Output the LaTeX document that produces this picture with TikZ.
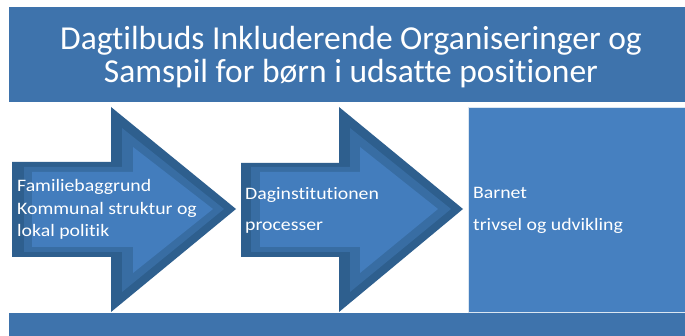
\documentclass[tikz,border=0pt]{standalone}
\usepackage{fontspec}
\setmainfont[Ligatures=NoCommon]{Carlito}
\newfontfamily\widefont[FakeStretch=1.13,Ligatures=NoCommon]{Carlito}
\definecolor{titleblue}{RGB}{62,115,172}
\definecolor{arrowdark}{RGB}{46,95,142}
\definecolor{arrowmid}{RGB}{56,109,163}
\definecolor{arrowlight}{RGB}{67,125,189}
\definecolor{boxblue}{RGB}{70,128,192}
\tikzset{
  bodytext/.style={text=white, inner sep=0pt, anchor=base west, font=\widefont\fontsize{17.5}{20}\selectfont},
  titletext/.style={text=white, inner sep=0pt, anchor=base, font=\fontsize{33.5}{38}\selectfont},
  band/.style={fill=titleblue, draw=none}
}
\begin{document}
\begin{tikzpicture}[x=1pt,y=-1pt]
\useasboundingbox (0,0) rectangle (685,336);
\fill[white] (0,0) rectangle (685,336);
% title band
\node[band, minimum width=676pt, minimum height=95pt, anchor=north west, inner sep=0pt] (title) at (9,7) {};
\node[titletext] (t1) at (351,50) {Dagtilbuds Inkluderende Organiseringer og};
\node[titletext] (t2) at (351,83) {Samspil for børn i udsatte positioner};
% bottom band
\node[band, minimum width=676pt, minimum height=24pt, anchor=north west, inner sep=0pt] (bottom) at (9,313) {};
% arrow 1
\fill[arrowdark] (12,162) -- (111,162) -- (111,107) -- (236,209) -- (111,312) -- (111,257) -- (12,257) -- cycle;
\fill[arrowmid] (24,167) -- (122,167) -- (122,128) -- (224,209) -- (122,292) -- (122,252) -- (24,252) -- cycle;
\fill[arrowlight] (32,172) -- (133,172) -- (133,147) -- (213,209) -- (133,273) -- (133,247) -- (32,247) -- cycle;
% arrow 2
\fill[arrowdark] (241,163) -- (339,163) -- (339,107) -- (463,209) -- (339,312) -- (339,257) -- (241,257) -- cycle;
\fill[arrowmid] (251,167) -- (350,167) -- (350,128) -- (451,209) -- (350,292) -- (350,252) -- (251,252) -- cycle;
\fill[arrowlight] (260,172) -- (360,172) -- (360,147) -- (438,209) -- (360,273) -- (360,247) -- (260,247) -- cycle;
% box 3
\node[fill=boxblue, draw=white!80!boxblue, line width=0.8pt, minimum width=220pt, minimum height=205pt, anchor=north west, inner sep=0pt] (child) at (468,107) {};
% texts
\node[bodytext] (a1) at (17,192) {Familiebaggrund};
\node[bodytext] (a2) at (17,215) {Kommunal struktur og};
\node[bodytext] (a3) at (17,237) {lokal politik};
\node[bodytext] (b1) at (245,200) {Daginstitutionen};
\node[bodytext] (b2) at (245,231) {processer};
\node[bodytext] (c1) at (473,199) {Barnet};
\node[bodytext] (c2) at (473,231) {trivsel og udvikling};
\end{tikzpicture}
\end{document}
